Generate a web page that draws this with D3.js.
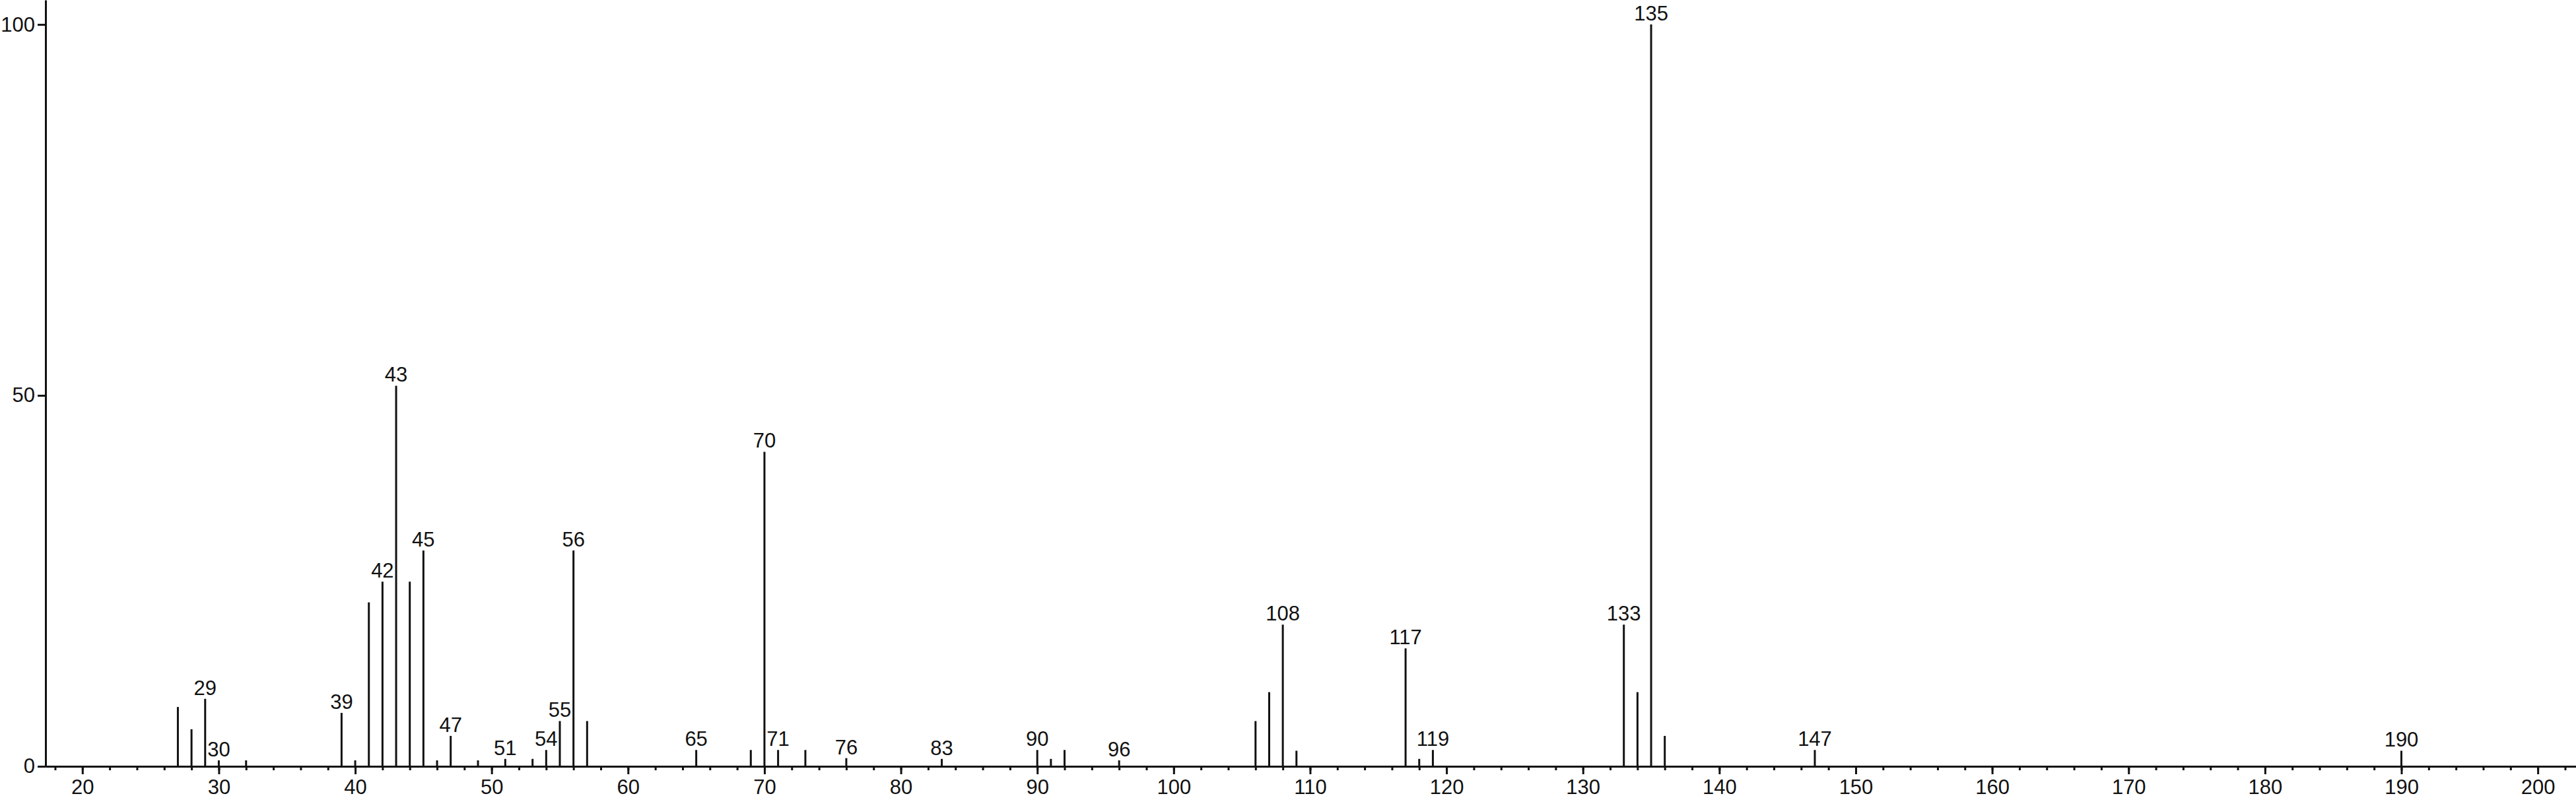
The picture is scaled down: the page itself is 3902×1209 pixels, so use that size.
<!DOCTYPE html>
<html>
<head>
<meta charset="utf-8">
<script src="https://cdn.jsdelivr.net/npm/d3@7/dist/d3.min.js"></script>
<style>
  html, body { margin: 0; padding: 0; background: #fff; }
  svg { display: block; }
  .axis path, .axis line { stroke: #111; stroke-width: 3px; }
  .axis text { font-family: "Liberation Sans", Arial, Helvetica, sans-serif; font-size: 31px; fill: #111; }
  .peak { stroke: #111; stroke-width: 3px; }
  .plabel { font-family: "Liberation Sans", Arial, Helvetica, sans-serif; font-size: 31px; fill: #111; text-anchor: middle; }
</style>
</head>
<body>
<div id="chart"></div>
<script>
var width = 3902, height = 1209;

// m/z of each peak
var mz = [27, 28, 29, 30, 32, 39, 40, 41, 42, 43, 44, 45, 46, 47, 49, 51, 53, 54, 55, 56, 57,
          65, 69, 70, 71, 73, 76, 83, 90, 91, 92, 96, 106, 107, 108, 109, 117, 118, 119,
          133, 134, 135, 136, 147, 190];

// relative intensity (%)
var intensity = [8.0, 5.0, 9.1, 0.8, 0.8, 7.2, 0.8, 22.1, 24.9, 51.3, 24.9, 29.1, 0.8, 4.1, 0.8, 1.0, 1.0, 2.2, 6.1, 29.1, 6.1,
                 2.2, 2.2, 42.4, 2.2, 2.2, 1.1, 1.0, 2.2, 1.0, 2.2, 0.8, 6.1, 10.0, 19.1, 2.1, 15.9, 1.0, 2.2,
                 19.1, 10.0, 100, 4.1, 2.2, 2.1];

// peaks that carry a label
var labelled = [29, 30, 39, 42, 43, 45, 47, 51, 54, 55, 56, 65, 70, 71, 76, 83, 90, 96, 108, 117, 119, 133, 135, 147, 190];

var xMajor = d3.range(20, 201, 10);
var xMinor = d3.range(18, 203, 2);
var yTicks = [0, 50, 100];

var data = mz.map(function (m, i) { return {m: m, v: intensity[i]}; });

var xScale = d3.scaleLinear()
    .domain([17.3, 202.8])
    .range([69, width]);

var yScale = d3.scaleLinear()
    .domain([0, 103.3])
    .range([1161, 0]);

var svg = d3.select("#chart").append("svg")
    .attr("width", width)
    .attr("height", height);

// minor x ticks
svg.append("g")
    .attr("class", "x axis minor")
    .attr("transform", "translate(0," + yScale(0) + ")")
    .call(d3.axisBottom(xScale).tickValues(xMinor).tickSize(6).tickSizeOuter(0).tickFormat(""));

// major x ticks with labels
svg.append("g")
    .attr("class", "x axis")
    .attr("transform", "translate(0," + yScale(0) + ")")
    .call(d3.axisBottom(xScale).tickValues(xMajor).tickSize(12).tickPadding(8).tickSizeOuter(0));

svg.append("g")
    .attr("class", "y axis")
    .attr("transform", "translate(" + xScale.range()[0] + ",0)")
    .call(d3.axisLeft(yScale).tickValues(yTicks).tickSize(12).tickPadding(4).tickSizeOuter(0));

svg.selectAll("line.peak")
    .data(data)
    .enter().append("line")
    .attr("class", "peak")
    .attr("x1", function (d) { return xScale(d.m); })
    .attr("x2", function (d) { return xScale(d.m); })
    .attr("y1", yScale(0))
    .attr("y2", function (d) { return yScale(d.v); });

svg.selectAll("text.plabel")
    .data(data.filter(function (d) { return labelled.indexOf(d.m) >= 0; }))
    .enter().append("text")
    .attr("class", "plabel")
    .attr("x", function (d) { return xScale(d.m); })
    .attr("y", function (d) { return yScale(d.v) - 6; })
    .text(function (d) { return d.m; });
</script>
</body>
</html>
